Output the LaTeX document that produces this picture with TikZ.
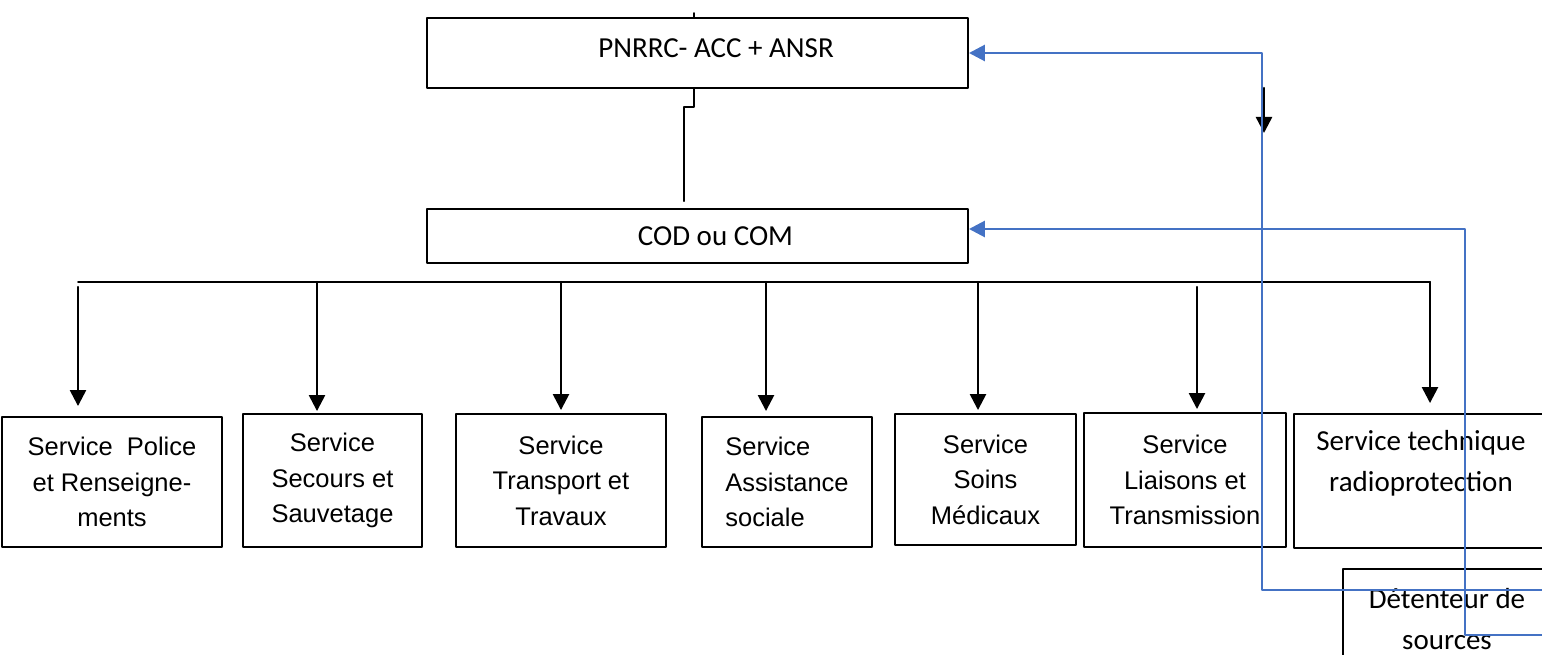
\documentclass[tikz,border=0pt]{standalone}
\usepackage{fontspec}
\usepackage{tikz}
\usetikzlibrary{arrows.meta,calc}
\newfontfamily\arialfont{Liberation Sans}
\newfontfamily\calfont{Carlito}
\definecolor{wordblue}{RGB}{68,114,196}

\begin{document}
\begin{tikzpicture}[line cap=round,line join=round,>={Triangle[width=16pt,length=16pt]},x=1pt,y=-1pt,
  box/.style={draw,line width=1.9pt,inner sep=0pt},
  svc/.style={box,font=\arialfont\fontsize{25.5}{35.5}\selectfont,align=center},
  cal/.style={box,font=\calfont\fontsize{29}{41}\selectfont,align=center},
  link/.style={line width=1.9pt},
  arr/.style={->,line width=2.5pt},
  back/.style={->,wordblue,line width=2.8pt}]
\useasboundingbox (0,0) rectangle (1542,655);
% top of the chain
\node[cal,minimum width=541pt,minimum height=70pt,text depth=10pt] (pnrrc) at (697.5,53) {\hspace*{37pt}PNRRC- ACC + ANSR};
\node[cal,minimum width=541pt,minimum height=54pt] (cod) at (697.5,236) {\hspace*{36pt}COD ou COM};
% services
\node[svc,minimum width=220pt,minimum height=130pt] (police) at (112,482) {Service\ \ Police\\et Renseigne-\\ments};
\node[svc,minimum width=179pt,minimum height=133pt] (secours) at (332.5,480.5) {Service\\Secours et\\Sauvetage};
\node[svc,minimum width=210pt,minimum height=133pt] (transport) at (561,480.5) {Service\\Transport et\\Travaux};
\node[svc,align=left,minimum width=170pt,minimum height=130pt] (assistance) at (787,482) {Service\\Assistance\\sociale};
\node[svc,minimum width=181pt,minimum height=131pt] (soins) at (985.5,479.5) {Service\\Soins\\Médicaux};
\node[svc,minimum width=202pt,minimum height=134pt] (liaisons) at (1185,480) {Service\\Liaisons et\\Transmission};
\node[cal,minimum width=254pt,minimum height=134pt] (technique) at (1421,481) {Service technique\\radioprotection\\\mbox{}};
\node[cal,minimum width=208pt,minimum height=100pt] (detenteur) at (1447,619) {Détenteur de\\sources};
% links between the two top boxes
\coordinate (tick) at (694,13);
\coordinate (jog) at (684,107);
\draw[link] (tick) -- (tick |- pnrrc.north);
\draw[link,shorten >=7pt] (tick |- pnrrc.south) -- (tick |- jog) -- (jog) -- (jog |- cod.north);
% distribution bar
\coordinate (b1) at (78,282);
\coordinate (b2) at (317,282);
\coordinate (b3) at (561,282);
\coordinate (b4) at (766,282);
\coordinate (b5) at (978,282);
\coordinate (b6) at (1197,282);
\coordinate (b7) at (1430,282);
\draw[link] (b1) -- (b7);
\draw[arr,shorten >=10pt] ([yshift=-5pt]b1) -- (b1 |- police.north);
\draw[arr,shorten >=2pt] (b2) -- (b2 |- secours.north);
\draw[arr,shorten >=3pt] (b3) -- (b3 |- transport.north);
\draw[arr,shorten >=5pt] (b4) -- (b4 |- assistance.north);
\draw[arr,shorten >=3pt] (b5) -- (b5 |- soins.north);
\draw[arr,shorten >=3pt] ([yshift=-5pt]b6) -- (b6 |- liaisons.north);
\draw[arr,shorten >=10pt] (b7) -- (b7 |- technique.north);
% lone arrow on the right
\coordinate (drop) at (1264,88);
\coordinate (dropend) at (1264,133);
\draw[arr] (drop) -- (dropend);
% feedback from the holder
\coordinate (src1) at (1550,590);
\coordinate (src2) at (1550,635);
\coordinate (turn1) at (1262,0);
\coordinate (turn2) at (1465,229);
\draw[back] (src1) -| (turn1 |- pnrrc.east) -- (pnrrc.east);
\draw[back] (src2) -| (turn2) -- (turn2 -| cod.east);
\end{tikzpicture}
\end{document}
